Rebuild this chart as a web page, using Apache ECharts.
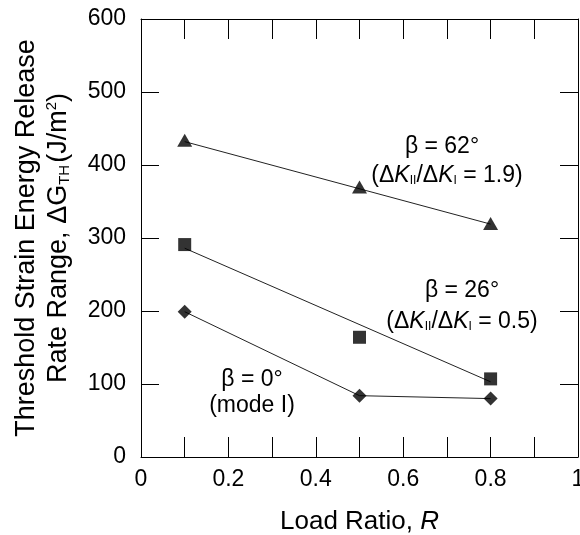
<!DOCTYPE html>
<html>
<head>
<meta charset="utf-8">
<script src="https://cdn.jsdelivr.net/npm/echarts@6/dist/echarts.min.js"></script>
<style>html,body{margin:0;padding:0;background:#fff}#c{width:580px;height:535px}</style>
</head>
<body>
<div id="c"></div>
<script>
// Load ratio R values
var loadRatio = [0.1, 0.5, 0.8];
// beta = 62 deg (triangles)
var beta62 = [434, 370, 320];
// beta = 26 deg (squares)
var beta26 = [291, 164, 107];
// beta = 0 deg, mode I (diamonds)
var beta0 = [199, 84, 80];
// fitted trend lines (end points)
var fitR = [0.1, 0.8];
var beta62Fit = [432, 319];
var beta26Fit = [286, 103];
var xTicks = ['0', '0.2', '0.4', '0.6', '0.8', '1'];

function pairs(xs, ys) { return xs.map(function (x, i) { return [x, ys[i]]; }); }

var FONT = 'Liberation Sans, Arial, Helvetica, sans-serif';
var chart = echarts.init(document.getElementById('c'), null, {renderer: 'canvas'});

var axisCommon = {
  axisLine: {show: true, onZero: false, lineStyle: {color: '#000', width: 1}},
  axisTick: {show: true, inside: true, lineStyle: {color: '#000', width: 1}},
  splitLine: {show: false}
};

var option = {
  animation: false,
  backgroundColor: '#fff',
  textStyle: {fontFamily: FONT},
  grid: {left: 141, right: 2, top: 19, bottom: 78, containLabel: false, outerBoundsMode: 'none'},
  xAxis: [
    Object.assign({}, axisCommon, {
      type: 'value', position: 'bottom', min: 0, max: 1, interval: 0.1,
      axisTick: {show: true, inside: true, length: 20, lineStyle: {color: '#000', width: 1}},
      axisLabel: {
        color: '#000', fontSize: 23, fontFamily: FONT, margin: 11,
        formatter: function (v) {
          var k = Math.round(v * 10);
          return k % 2 === 0 ? xTicks[k / 2] : '';
        }
      },
      name: 'Load Ratio, {i|R}',
      nameLocation: 'middle', nameGap: 52,
      nameTextStyle: {color: '#000', fontSize: 26, fontFamily: FONT,
        rich: {i: {fontStyle: 'italic', fontSize: 26, fontFamily: FONT, color: '#000'}}}
    }),
    Object.assign({}, axisCommon, {
      type: 'value', position: 'top', min: 0, max: 1, interval: 0.1,
      axisTick: {show: true, inside: true, length: 20, lineStyle: {color: '#000', width: 1}},
      axisLabel: {show: false}
    })
  ],
  yAxis: [
    Object.assign({}, axisCommon, {
      type: 'value', position: 'left', min: 0, max: 600, interval: 100,
      axisTick: {show: true, inside: true, length: 18, lineStyle: {color: '#000', width: 1}},
      axisLabel: {color: '#000', fontSize: 23, fontFamily: FONT, margin: 15},
      name: 'Threshold Strain Energy Release\nRate Range, \u0394G{sub|TH}{n|(J/m}{sup|2}{n|)}',
      nameLocation: 'middle', nameRotate: 90, nameGap: 66,
      nameTextStyle: {color: '#000', fontSize: 27, fontFamily: FONT, lineHeight: 32,
        rich: {
          n: {fontSize: 27, fontFamily: FONT, color: '#000', lineHeight: 32},
          sub: {fontSize: 15, fontFamily: FONT, color: '#000', padding: [12, 2, 0, 0], lineHeight: 32},
          sup: {fontSize: 15, fontFamily: FONT, color: '#000', padding: [0, 0, 14, 0], lineHeight: 32}
        }}
    }),
    Object.assign({}, axisCommon, {
      type: 'value', position: 'right', min: 0, max: 600, interval: 100,
      axisTick: {show: true, inside: true, length: 18, lineStyle: {color: '#000', width: 1}},
      axisLabel: {show: false}
    })
  ],
  series: [
    {type: 'line', data: pairs(fitR, beta62Fit), symbol: 'none', lineStyle: {color: '#222', width: 1}, z: 2},
    {type: 'line', data: pairs(fitR, beta26Fit), symbol: 'none', lineStyle: {color: '#222', width: 1}, z: 2},
    {type: 'line', data: pairs(loadRatio, beta0), symbol: 'none', lineStyle: {color: '#222', width: 1}, z: 2},
    {type: 'scatter', data: pairs(loadRatio, beta62), symbol: 'triangle', symbolSize: [15, 13],
      itemStyle: {color: '#000'}, z: 3},
    {type: 'scatter', data: pairs(loadRatio, beta26), symbol: 'rect', symbolSize: 13,
      itemStyle: {color: '#000'}, z: 3},
    {type: 'scatter', data: pairs(loadRatio, beta0), symbol: 'diamond', symbolSize: [14, 14],
      itemStyle: {color: '#000'}, z: 3}
  ]
};
chart.setOption(option);

var annRich = {
  i: {fontStyle: 'italic', fontSize: 23, fontFamily: FONT, fill: '#000'},
  s: {fontSize: 12, fontFamily: FONT, fill: '#000', padding: [10, 0, 0, 0]}
};
function ann(x, y, text) {
  return {type: 'text', x: x, y: y, z: 10,
    style: {text: text, fontSize: 23, fontFamily: FONT, fill: '#000', align: 'center', verticalAlign: 'middle', rich: annRich}};
}
chart.setOption({graphic: [
  ann(442, 147, '\u03b2 = 62\u00b0'),
  ann(447, 176, '(\u0394{i|K}{s|II}/\u0394{i|K}{s|I} = 1.9)'),
  ann(462, 291, '\u03b2 = 26\u00b0'),
  ann(462, 322, '(\u0394{i|K}{s|II}/\u0394{i|K}{s|I} = 0.5)'),
  ann(252, 380, '\u03b2 = 0\u00b0'),
  ann(252, 406, '(mode I)')
]});
</script>
</body>
</html>
